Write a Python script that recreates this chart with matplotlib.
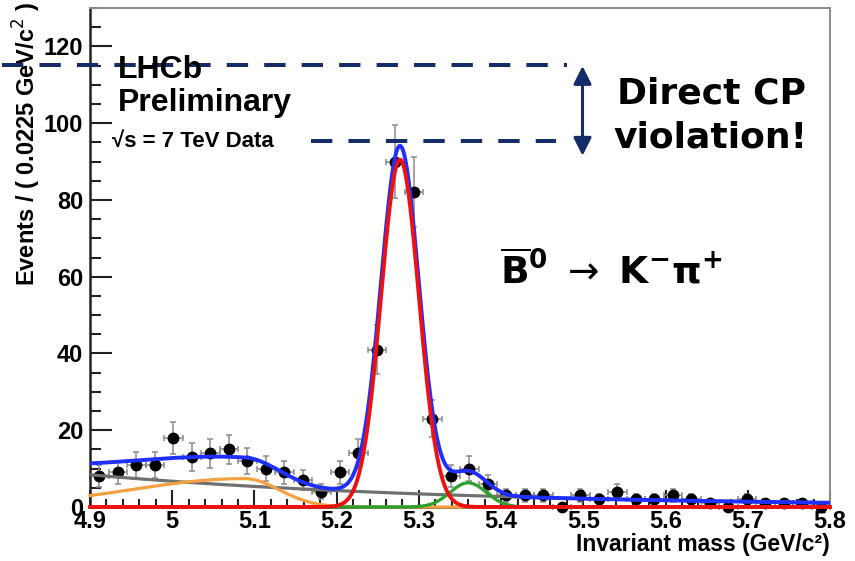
import numpy as np
import matplotlib.pyplot as plt
from matplotlib.ticker import MultipleLocator, FixedLocator

W, H = 855, 561

# B0bar -> K- pi+ candidates, 40 bins of 0.0225 GeV/c^2 between 4.9 and 5.8
mass_lo, mass_hi, bin_width = 4.9, 5.8, 0.0225
counts = [8, 9, 11, 11, 18, 13, 14, 15, 12, 10,
          9, 7, 4, 9, 14, 41, 90, 82, 23, 8,
          10, 6, 3, 3, 3, 0, 3, 2, 4, 2,
          2, 3, 2, 1, 0, 2, 1, 1, 1, 0]

# fit components (heights in events per bin)
sig_mean, sig_sigma, sig_height = 5.277, 0.023, 90.5          # B0 -> K pi signal
bs_mean, bs_sigma, bs_height = 5.360, 0.022, 6.3              # Bs -> K pi
prc_mean, prc_sigma_lo, prc_sigma_hi, prc_height = 5.088, 0.139, 0.042, 7.4  # partially reco.
comb_level, comb_slope = 8.4, -2.25                           # combinatorial

x_ticks = [4.9, 5.0, 5.1, 5.2, 5.3, 5.4, 5.5, 5.6, 5.7, 5.8]
x_tick_labels = ["4.9", "5", "5.1", "5.2", "5.3", "5.4", "5.5", "5.6", "5.7", "5.8"]
y_ticks = [0, 20, 40, 60, 80, 100, 120]

# annotation levels: the two peak heights being compared
level_high, level_low = 115.2, 95.4

NAVY = "#142d69"
root_font = dict(family="Liberation Sans", fontweight="bold")
slide_font = dict(family="DejaVu Sans", fontweight="bold")


def gauss(m, mu, s, h):
    return h * np.exp(-0.5 * ((m - mu) / s) ** 2)


def bifur_gauss(m, mu, s_lo, s_hi, h):
    s = np.where(m < mu, s_lo, s_hi)
    return h * np.exp(-0.5 * ((m - mu) / s) ** 2)


def px(x, y):
    return x / W, 1 - y / H


plt.rcParams["mathtext.fontset"] = "dejavusans"

fig = plt.figure(figsize=(W / 100, H / 100), dpi=100)
ax = fig.add_axes([90 / W, 54 / H, 740 / W, 499 / H])

counts = np.asarray(counts, dtype=float)
centres = mass_lo + bin_width * (np.arange(len(counts)) + 0.5)
ax.errorbar(centres, counts, yerr=np.sqrt(counts), xerr=bin_width / 2,
            fmt="o", color="black", ms=7.5, ecolor="#8a8a8a", elinewidth=1.1,
            capsize=2.5, capthick=1.1, zorder=2, clip_on=False)

m = np.linspace(mass_lo, mass_hi, 900)
comb = comb_level * np.exp(comb_slope * (m - mass_lo))
prc = bifur_gauss(m, prc_mean, prc_sigma_lo, prc_sigma_hi, prc_height)
bs = gauss(m, bs_mean, bs_sigma, bs_height)
sig = gauss(m, sig_mean, sig_sigma, sig_height)
total = comb + prc + bs + sig

ax.plot(m, comb, color="#707070", lw=2.3, zorder=3)
ax.plot(m, prc, color="#f5a040", lw=2.3, zorder=3.1, clip_on=False)
ax.plot(m, bs, color="#2ca02c", lw=2.3, zorder=3.2, clip_on=False)
ax.plot(m, total, color="#1f2fff", lw=2.8, zorder=3.3)
ax.plot(m, sig, color="#ee1111", lw=2.8, zorder=3.4, clip_on=False)

ax.set_xlim(mass_lo, mass_hi)
ax.set_ylim(0, 130)
ax.xaxis.set_major_locator(FixedLocator(x_ticks))
ax.set_xticklabels(x_tick_labels)
ax.xaxis.set_minor_locator(MultipleLocator(0.02))
ax.yaxis.set_major_locator(FixedLocator(y_ticks))
ax.yaxis.set_minor_locator(MultipleLocator(5))
ax.tick_params(which="both", direction="in", top=False, right=False, width=1.5,
               color="#222222")
ax.tick_params(axis="x", which="major", length=12, pad=2.5)
ax.tick_params(axis="x", which="minor", length=6)
ax.tick_params(axis="y", which="major", length=16, pad=5)
ax.tick_params(axis="y", which="minor", length=8)
for lab in ax.get_xticklabels() + ax.get_yticklabels():
    lab.set_fontsize(17)
    lab.set_fontweight("bold")
    lab.set_family("Liberation Sans")

for side in ("left", "bottom"):
    ax.spines[side].set_linewidth(1.8)
    ax.spines[side].set_color("#222222")
for side in ("top", "right"):
    ax.spines[side].set_linewidth(1.4)
    ax.spines[side].set_color("#8c8c8c")

ax.set_xlabel("Invariant mass (GeV/c\u00b2)", loc="right", fontsize=16.5, **root_font)
ax.xaxis.set_label_coords(1.0, -0.053)
ax.set_ylabel("Events / ( 0.0225 GeV/c$^{2}$ )", loc="top", fontsize=17, **root_font)
ax.yaxis.set_label_coords(-0.064, 1.012)

# experiment tag
fig.text(*px(118, 78), "LHCb", fontsize=23, va="baseline", **root_font)
fig.text(*px(118, 111), "Preliminary", fontsize=23, va="baseline", **root_font)
fig.text(*px(112, 147), "\u221as = 7 TeV Data", fontsize=16, va="baseline", **root_font)

# dashed reference levels and the asymmetry arrow
ax.plot([4.7925, 5.480], [level_high, level_high], color=NAVY, lw=2.9,
        linestyle=(0, (5.3, 4.0)), dash_capstyle="butt", clip_on=False, zorder=5)
ax.plot([5.1684, 5.4668], [level_low, level_low], color=NAVY, lw=2.9,
        linestyle=(0, (5.3, 4.0)), dash_capstyle="butt", clip_on=False, zorder=5)
ax.annotate("", xy=(5.499, 114.9), xytext=(5.499, 91.5),
            arrowprops=dict(arrowstyle="<|-|>,head_length=0.4,head_width=0.2",
                            color=NAVY, lw=2.2, mutation_scale=27,
                            shrinkA=0, shrinkB=0),
            annotation_clip=False, zorder=6)

fig.text(*px(711, 103), "Direct CP", fontsize=26, ha="center", va="baseline", **slide_font)
fig.text(*px(711, 148), "violation!", fontsize=26, ha="center", va="baseline", **slide_font)

fig.text(*px(500, 283),
         r"$\overline{\mathbf{B}}^{\mathbf{0}}\ \rightarrow\ \mathbf{K}^{\mathbf{-}}\mathbf{\pi}^{\mathbf{+}}$",
         fontsize=27, va="baseline", ha="left")

fig.savefig("out.png", dpi=100)
